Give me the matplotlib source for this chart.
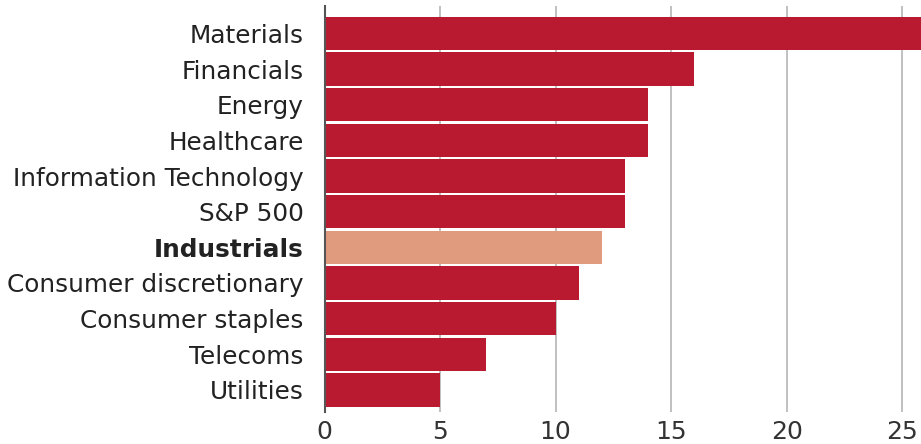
import matplotlib
matplotlib.use("Agg")
from matplotlib import pyplot as plt
from matplotlib.ticker import FixedLocator

sectors = ["Materials", "Financials", "Energy", "Healthcare", "Information Technology",
           "S&P 500", "Industrials", "Consumer discretionary", "Consumer staples",
           "Telecoms", "Utilities"]
values = [26, 16, 14, 14, 13, 13, 12, 11, 10, 7, 5]
highlight = "Industrials"

RED = "#ba1a30"
SALMON = "#e09a7e"

plt.rcParams["font.family"] = ["DejaVu Sans"]

fig = plt.figure(figsize=(9.21, 4.44), dpi=100)
ax = fig.add_axes([324.5 / 921, 1 - 412 / 444, 1 - 324.5 / 921, 406 / 444])

pos = list(range(len(sectors)))
colors = [SALMON if s == highlight else RED for s in sectors]
ax.barh(pos, values, height=0.94, color=colors, zorder=2)

ax.set_xlim(0, 25.81)
ax.set_ylim(10.62, -0.77)
ax.xaxis.set_major_locator(FixedLocator([0, 5, 10, 15, 20, 25]))
ax.set_yticks(pos)
ax.set_yticklabels(sectors)
for lbl in ax.get_yticklabels():
    if lbl.get_text() == highlight:
        lbl.set_fontweight("bold")

ax.grid(axis="x", color="#bbbbbb", linewidth=1.3, zorder=0)
ax.tick_params(axis="y", length=0, pad=15, labelsize=17.8, labelcolor="#222222")
ax.tick_params(axis="x", length=0, pad=6, labelsize=18, labelcolor="#333333")
for side in ["top", "right", "bottom"]:
    ax.spines[side].set_visible(False)
ax.spines["left"].set_color("#555555")
ax.spines["left"].set_linewidth(1.5)
ax.spines["left"].set_zorder(3)

fig.savefig("out.png", dpi=100)
